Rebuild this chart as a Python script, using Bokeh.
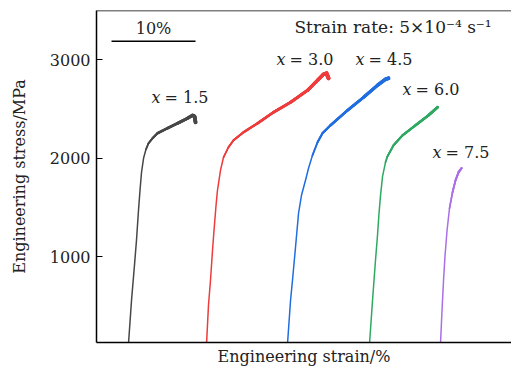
from bokeh.plotting import figure
from bokeh.models import FixedTicker, Span, Range1d, Label
from bokeh.embed import file_html
from bokeh.resources import INLINE

FONT = "DejaVu Serif"

# ---- data (engineering strain %, engineering stress MPa) ----
s15 = [3.81, 4.17, 4.52, 4.76, 5.00, 5.18, 5.36, 5.60, 5.89, 6.19, 6.67, 7.26, 8.45, 9.64, 10.83, 11.43, 11.67, 11.79]
t15 = [120, 559, 914, 1168, 1472, 1675, 1858, 2000, 2091, 2152, 2203, 2254, 2305, 2355, 2406, 2436, 2426, 2365]

s30 = [13.10, 13.33, 13.57, 13.81, 13.99, 14.23, 14.40, 14.76, 15.12, 15.71, 16.31, 17.50, 19.17, 21.07, 23.10, 25.12, 26.31, 27.02, 27.38, 27.62]
t30 = [120, 508, 762, 1066, 1269, 1523, 1675, 1878, 2010, 2112, 2183, 2264, 2355, 2467, 2568, 2690, 2792, 2853, 2863, 2812]

s45 = [22.74, 23.10, 23.33, 23.69, 24.05, 24.40, 24.88, 25.24, 25.71, 26.31, 26.90, 27.86, 29.88, 31.79, 33.45, 34.40, 34.76]
t45 = [120, 559, 762, 1097, 1442, 1624, 1777, 1899, 2030, 2162, 2254, 2335, 2487, 2619, 2741, 2802, 2812]

s60 = [32.50, 32.86, 33.21, 33.45, 33.63, 33.81, 34.05, 34.40, 34.64, 35.36, 36.43, 37.98, 39.52, 40.60]
t60 = [120, 559, 965, 1218, 1442, 1624, 1817, 1959, 2020, 2132, 2233, 2335, 2436, 2518]

s75 = [40.95, 41.13, 41.31, 41.49, 41.73, 42.02, 42.38, 42.74, 43.10, 43.45]
t75 = [120, 457, 762, 1015, 1269, 1492, 1655, 1777, 1858, 1899]

labels = ["= 1.5", "= 3.0", "= 4.5", "= 6.0", "= 7.5"]
label_x = [7.62, 22.5, 31.9, 37.5, 41.07]
label_y = [2619, 3005, 3005, 2700, 2061]

colors = ["#474747", "#ee3b3b", "#1f6de0", "#2fa862", "#a86fe6"]
thick_from = [8, 8, 8, 7, 5]
thick_w = [3.8, 4.0, 3.8, 2.8, 2.2]

yticks = [1000, 2000, 3000]

curves = [(s15, t15), (s30, t30), (s45, t45), (s60, t60), (s75, t75)]

p = figure(width=511, height=369, output_backend="svg", toolbar_location=None,
           x_range=Range1d(0, 49.4), y_range=Range1d(130, 3500),
           min_border_left=96, min_border_right=0, min_border_top=10, min_border_bottom=27)
p.background_fill_color = "white"
p.border_fill_color = "white"
p.outline_line_color = None
p.xgrid.visible = False
p.ygrid.visible = False

for (sx, sy), c, k, w in zip(curves, colors, thick_from, thick_w):
    p.line(sx, sy, line_color=c, line_width=1.5, line_join="round")
    n = len(sx)
    for i in range(k, n - 1):
        frac = (i - k + 1) / (n - 1 - k)
        p.line(sx[i:], sy[i:], line_color=c, line_width=1.5 + (w - 1.5) * frac,
               line_join="round", line_cap="round")

TXT = "#222222"


def add_label(x, y, text, align="left", style="normal", x_offset=0, size="16px"):
    p.add_layout(Label(x=x, y=y, text=text, text_align=align, text_baseline="middle",
                       text_font=FONT, text_font_style=style, text_font_size=size,
                       text_color=TXT, x_offset=x_offset))


# curve labels
for lx, ly, lt in zip(label_x, label_y, labels):
    add_label(lx, ly, "x", align="right", style="italic")
    add_label(lx, ly, lt, align="left", x_offset=4)

# scale bar
bar_x = [1.79, 11.79]
bar_y = [3188, 3188]
p.line(bar_x, bar_y, line_color="black", line_width=1.5)
add_label(sum(bar_x) / 2, 3320, "10%", align="center")

add_label(35.3, 3330, "Strain rate: 5×10⁻⁴ s⁻¹", align="center", size="17px")

# top border
p.add_layout(Span(location=3500, dimension="width", line_color="black", line_width=1.5))

# axes
ya = p.yaxis[0]
ya.ticker = FixedTicker(ticks=yticks)
ya.axis_label = "Engineering stress/MPa"
ya.axis_label_text_font = FONT
ya.axis_label_text_font_style = "normal"
ya.axis_label_text_font_size = "16px"
ya.axis_label_text_color = TXT
ya.axis_label_standoff = 18
ya.major_label_text_font = FONT
ya.major_label_text_font_size = "16px"
ya.major_label_text_color = TXT
ya.major_label_standoff = 6
ya.major_tick_in = 6
ya.major_tick_out = 0
ya.minor_tick_line_color = None
ya.axis_line_width = 1.5
ya.axis_line_color = "black"

xa = p.xaxis[0]
xa.ticker = FixedTicker(ticks=[])
xa.axis_label = "Engineering strain/%"
xa.axis_label_text_font = FONT
xa.axis_label_text_font_style = "normal"
xa.axis_label_text_font_size = "16px"
xa.axis_label_text_color = TXT
xa.axis_label_standoff = 4
xa.major_label_standoff = 0
xa.major_tick_in = 0
xa.major_tick_out = 0
xa.minor_tick_line_color = None
xa.axis_line_width = 1.5
xa.axis_line_color = "black"

open("out.html", "w").write(file_html(p, INLINE))
